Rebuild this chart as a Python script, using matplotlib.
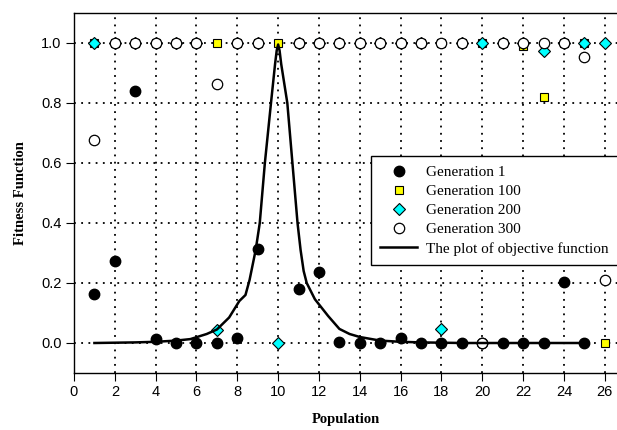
import numpy as np
import matplotlib
matplotlib.use("Agg")
import matplotlib.pyplot as plt

# 数据
population = list(range(1, 27))
nan = np.nan
gen1 = [0.163, 0.272, 0.84, 0.013, 0.0, 0.0, 0.0, 0.017, 0.315, nan, 0.179, 0.236, 0.003,
        0.0, 0.0, 0.017, 0.0, 0.0, 0.0, 0.0, 0.0, 0.0, 0.0, 0.205, 0.0, nan]
gen100 = [1.0, 1.0, 1.0, 1.0, 1.0, 1.0, 1.0, 1.0, 1.0, 1.0, 1.0, 1.0, 1.0,
          1.0, 1.0, 1.0, 1.0, 1.0, 1.0, 1.0, 1.0, 0.99, 0.82, 1.0, 1.0, 0.0]
gen200 = [1.0, 1.0, 1.0, 1.0, 1.0, 1.0, 0.043, 1.0, 1.0, 0.0, 1.0, 1.0, 1.0,
          1.0, 1.0, 1.0, 1.0, 0.046, 1.0, 1.0, 1.0, 1.0, 0.973, 1.0, 1.0, 1.0]
gen300 = [0.678, 1.0, 1.0, 1.0, 1.0, 1.0, 0.864, 1.0, 1.0, nan, 1.0, 1.0, 1.0,
          1.0, 1.0, 1.0, 1.0, 1.0, 1.0, 0.0, 1.0, 1.0, 1.0, 1.0, 0.955, 0.21]

# 目标函数曲线
obj_x = [1, 2, 3, 4, 5, 5.7, 6.5, 7.0, 7.6, 8.1, 8.4, 8.6, 8.9, 9.1, 9.35, 9.65, 9.85,
         9.93, 10.0, 10.07, 10.15, 10.45, 10.7, 10.95, 11.1, 11.25, 11.4, 11.8, 12.45,
         13.0, 13.5, 14, 15, 16, 17, 18, 19, 20, 21, 22, 23, 24, 25]
obj_y = [0.0, 0.001, 0.002, 0.004, 0.008, 0.013, 0.03, 0.045, 0.085, 0.14, 0.16, 0.21,
         0.31, 0.40, 0.60, 0.80, 0.93, 0.975, 0.995, 0.975, 0.93, 0.80, 0.60, 0.40, 0.31,
         0.24, 0.20, 0.146, 0.09, 0.047, 0.03, 0.02, 0.008, 0.004, 0.002, 0.001, 0.0,
         0.0, 0.0, 0.0, 0.0, 0.0, 0.0]

fig = plt.figure(figsize=(6.17, 4.30), dpi=100)
ax = fig.add_axes([74 / 617, 57 / 430, 543 / 617, 360 / 430])

ax.plot(population, gen1, 'o', color='black', markersize=7.5, linestyle='none',
        label='Generation 1')
ax.plot(population, gen100, 's', markerfacecolor='yellow', markeredgecolor='black',
        markeredgewidth=0.8, markersize=5.8, linestyle='none', label='Generation 100')
ax.plot(population, gen200, 'D', markerfacecolor='cyan', markeredgecolor='black',
        markeredgewidth=0.8, markersize=6, linestyle='none', label='Generation 200')
ax.plot(population, gen300, 'o', markerfacecolor='white', markeredgecolor='black',
        markeredgewidth=0.9, markersize=7.5, linestyle='none', label='Generation 300')
ax.plot(obj_x, obj_y, color='black', linewidth=1.8,
        label='The plot of objective function')

ax.set_xlim(0, 26.6)
ax.set_ylim(-0.1, 1.1)
ax.set_xticks(range(0, 27, 2))
ax.set_yticks([0.0, 0.2, 0.4, 0.6, 0.8, 1.0])
ax.set_yticklabels(['0.0', '0.2', '0.4', '0.6', '0.8', '1.0'])
ax.grid(True, color='black', linestyle=(0, (1, 3)), linewidth=1.3)
ax.set_axisbelow(True)
ax.tick_params(direction='out', length=6, labelsize=10.5, pad=3)
for lab in ax.get_xticklabels() + ax.get_yticklabels():
    lab.set_family('Liberation Sans')
ax.spines['right'].set_visible(False)
for s in ['left', 'bottom', 'top']:
    ax.spines[s].set_linewidth(1.0)

ax.set_xlabel('Population', family='Liberation Serif', fontweight='bold',
              fontsize=10.5, labelpad=10)
ax.set_ylabel('Fitness Function', family='Liberation Serif', fontweight='bold',
              fontsize=10.5, labelpad=10)

leg = ax.legend(loc='upper left', bbox_to_anchor=(371 / 617, 1 - 156 / 430),
                bbox_transform=fig.transFigure, prop={'family': 'Liberation Serif', 'size': 11},
                frameon=True, fancybox=False, edgecolor='black', framealpha=1,
                borderpad=0.6, labelspacing=0.36, handlelength=2.4, handletextpad=0.6,
                borderaxespad=0)
leg.get_frame().set_linewidth(1.0)

plt.savefig("out.png", dpi=100)
